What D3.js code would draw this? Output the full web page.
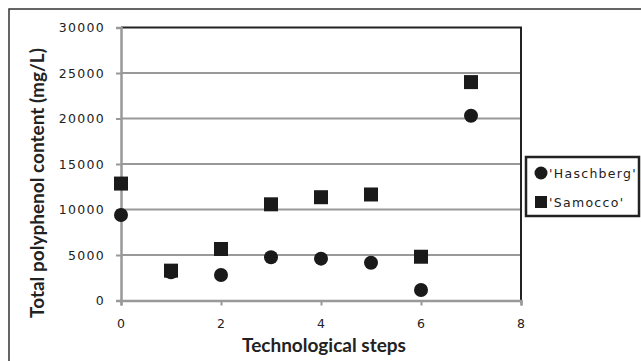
<!DOCTYPE html>
<html>
<head>
<meta charset="utf-8">
<script src="https://cdn.jsdelivr.net/npm/d3@7"></script>
<style>
body { margin: 0; background: #fff; }
</style>
</head>
<body>
<script>
// technological steps and polyphenol content (mg/L)
var steps = [0, 1, 2, 3, 4, 5, 6, 7];
var haschberg = [9400, 3100, 2800, 4750, 4600, 4150, 1150, 20300];
var samocco = [12850, 3280, 5660, 10570, 11350, 11650, 4810, 24000];
var seriesNames = ["'Haschberg'", "'Samocco'"];
var xTicks = [0, 2, 4, 6, 8];
var yTicks = [0, 5000, 10000, 15000, 20000, 25000, 30000];

var w = 641, h = 361;
var plotL = 121, plotR = 521, plotT = 27.5, plotB = 300.5;

var svg = d3.select("body")
    .append("svg")
    .attr("width", w)
    .attr("height", h);

// outer frame
svg.append("rect")
    .attr("x", 9).attr("y", 9)
    .attr("width", 700).attr("height", 400)
    .attr("fill", "none")
    .attr("stroke", "#333")
    .attr("stroke-width", 1.5);

var x = d3.scaleLinear().domain([0, 8]).range([plotL, plotR]);
var y = d3.scaleLinear().domain([0, 30000]).range([plotB, plotT]);

// gridlines
svg.selectAll(".grid")
    .data(yTicks.slice(1, -1))
    .enter()
    .append("line")
    .attr("x1", plotL).attr("x2", plotR)
    .attr("y1", function(d) { return y(d); })
    .attr("y2", function(d) { return y(d); })
    .attr("stroke", "#999")
    .attr("stroke-width", 2);

// top and right border of plot
svg.append("path")
    .attr("d", "M" + plotL + "," + y(30000) + "H" + plotR + "V" + plotB)
    .attr("fill", "none")
    .attr("stroke", "#222")
    .attr("stroke-width", 2);

var yAxis = svg.append("g")
    .attr("transform", "translate(" + plotL + ",0)")
    .call(d3.axisLeft(y).tickValues(yTicks).tickSize(5).tickPadding(11).tickFormat(d3.format("d")));

var xAxis = svg.append("g")
    .attr("transform", "translate(0," + plotB + ")")
    .call(d3.axisBottom(x).tickValues(xTicks).tickSize(5).tickPadding(14));

[yAxis, xAxis].forEach(function(g) {
    g.select(".domain").attr("stroke", "#999").attr("stroke-width", 2.5);
    g.selectAll(".tick line").attr("stroke", "#999").attr("stroke-width", 2);
    g.selectAll("text")
        .attr("fill", "#222")
        .style("font-family", "DejaVu Sans")
        .style("font-size", "12.5px")
        .style("letter-spacing", "1.3px");
});

// markers
svg.selectAll(".sq")
    .data(steps)
    .enter()
    .append("rect")
    .attr("x", function(d) { return x(d) - 7; })
    .attr("y", function(d, i) { return y(samocco[i]) - 7; })
    .attr("width", 14).attr("height", 14)
    .attr("fill", "#1a1a1a");

svg.selectAll(".dot")
    .data(steps)
    .enter()
    .append("circle")
    .attr("cx", function(d) { return x(d); })
    .attr("cy", function(d, i) { return y(haschberg[i]); })
    .attr("r", 7)
    .attr("fill", "#1a1a1a");

// axis titles
svg.append("text")
    .attr("x", 324)
    .attr("y", 352)
    .attr("text-anchor", "middle")
    .style("font-family", "Lato")
    .style("font-weight", "bold")
    .style("font-size", "19px")
    .attr("fill", "#222")
    .text("Technological steps");

svg.append("text")
    .attr("transform", "translate(44,183) rotate(-90)")
    .attr("text-anchor", "middle")
    .style("font-family", "Lato")
    .style("font-weight", "bold")
    .style("font-size", "19px")
    .attr("fill", "#222")
    .text("Total polyphenol content (mg/L)");

// legend
var lg = svg.append("g");
lg.append("rect")
    .attr("x", 526).attr("y", 157)
    .attr("width", 113).attr("height", 59)
    .attr("fill", "#fff")
    .attr("stroke", "#222")
    .attr("stroke-width", 2.5);

lg.append("circle").attr("cx", 541).attr("cy", 173).attr("r", 6.5).attr("fill", "#1a1a1a");
lg.append("rect").attr("x", 535).attr("y", 196).attr("width", 12).attr("height", 12).attr("fill", "#1a1a1a");

lg.selectAll(".lt")
    .data(seriesNames)
    .enter()
    .append("text")
    .attr("x", 549)
    .attr("y", function(d, i) { return 178 + i * 29; })
    .style("font-family", "DejaVu Sans")
    .style("font-size", "12.5px")
    .style("letter-spacing", "1.3px")
    .attr("fill", "#222")
    .text(function(d) { return d; });
</script>
</body>
</html>
